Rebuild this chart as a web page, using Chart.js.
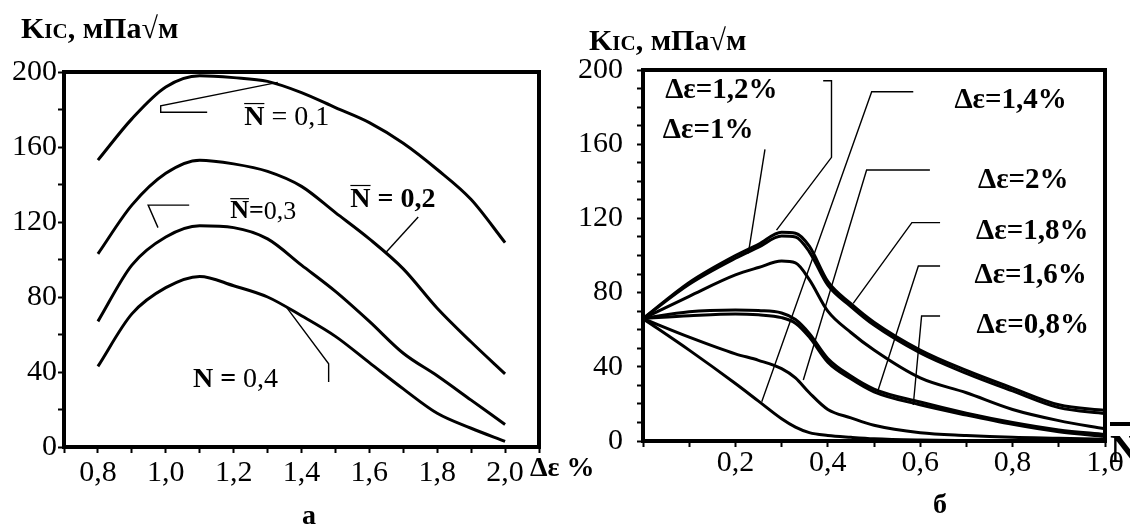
<!DOCTYPE html>
<html lang="ru">
<head>
<meta charset="UTF-8">
<title>K1C от Δε и N</title>
<script src="https://cdn.jsdelivr.net/npm/chart.js"></script>
<style>
  body { margin: 0; background: #fff; color: #000; font-family: 'Liberation Serif', 'Times New Roman', serif; }
  #wrap { position: relative; width: 1130px; height: 524px; overflow: hidden; }
  canvas { position: absolute; top: 0; }
  .lbl { position: absolute; font-weight: bold; white-space: nowrap; line-height: 1; }
  .lbl .sub { font-size: 21px; }
</style>
</head>
<body>
<div id="wrap">
  <canvas id="chartA" width="565" height="524" style="left:0"></canvas>
  <canvas id="chartB" width="565" height="524" style="left:565px"></canvas>
  <div class="lbl" style="left:21px; top:13px; font-size:30px">K<span class="sub">IC</span>, мПа√м</div>
  <div class="lbl" style="left:589px; top:25px; font-size:30px">K<span class="sub">IC</span>, мПа√м</div>
  <div class="lbl" style="left:530px; top:453px; font-size:28px">Δε %</div>
  <div class="lbl" style="left:302px; top:501px; font-size:28px">а</div>
  <div class="lbl" style="left:933px; top:490px; font-size:28px">б</div>
  <div class="lbl" style="left:1110px; top:429px; font-size:40px; text-decoration:overline">N</div>
</div>
<script>
// ---- chart а: K1C vs strain range, one curve per N ----
const strainX = [0.8, 0.9, 1.0, 1.1, 1.2, 1.3, 1.4, 1.5, 1.6, 1.7, 1.8, 1.9, 2.0];
const kN01 = [153, 175, 192, 198, 197, 195, 189, 181, 173, 162, 148, 132, 109];
const kN02 = [103, 129, 146, 153, 151, 147, 139, 125, 111, 95, 74, 56, 39];
const kN03 = [67, 97, 112, 118, 117, 111, 97, 83, 67, 50, 38, 25, 12];
const kN04 = [43, 71, 85, 91, 86, 80, 70, 59, 45, 31, 18, 10, 3];

// ---- chart б: K1C vs N, one curve per strain range ----
const nX = [0, 0.1, 0.2, 0.25, 0.3, 0.33, 0.36, 0.4, 0.45, 0.5, 0.6, 0.7, 0.8, 0.9, 1.0];
const kE12 = [66, 85.5, 100, 106, 112.5, 112, 105, 86, 74, 64, 49, 38, 28.5, 19.5, 16.5];
const kE10 = [66, 84.5, 98.5, 104.5, 110.5, 110, 102, 84, 72.5, 62.5, 47.5, 36.5, 27, 18, 14.8];
const kE18 = [66, 78, 89.5, 93.5, 97, 96, 87, 70, 58.5, 49, 34, 26, 17, 11, 6.6];
const kE16 = [66, 69.7, 70.6, 70.3, 69, 65.5, 58, 44.5, 35, 28, 21, 15, 10, 6, 3.5];
const kE08 = [66, 67.5, 68.5, 68, 66.5, 63.5, 56, 42.5, 33.5, 26.5, 19.5, 14, 9, 5, 2.5];
const kE20 = [66, 56, 47, 43.5, 39, 34, 26, 17, 12.5, 8.5, 4.5, 3, 2, 1.5, 1];
const kE14 = [66, 49, 31, 21.5, 12, 7.5, 4.5, 3, 2, 1.2, 0.5, 0.2, 0, 0, 0];

// annotation texts and leader lines, in data units
const labelsA = [
  { x: 1.231, y: 175.7, size: 28, parts: [['N', true, true], [' = 0,1', false]] },
  { x: 1.544, y: 132, size: 28, parts: [['N', true, true], [' = 0,2', true]] },
  { x: 1.19, y: 125.5, size: 26, parts: [['N', true, true], ['=', true], ['0,3', false]] },
  { x: 1.08, y: 36, size: 28, parts: [['N', true, false], [' = ', true], ['0,4', false]] }
];
const leadersA = [
  [[1.33, 194.5], [0.985, 181.9], [0.985, 178.5], [1.122, 178.5]],
  [[1.744, 122.7], [1.65, 104]],
  [[1.069, 129], [0.948, 129], [0.977, 117]],
  [[1.355, 74.7], [1.48, 44.4], [1.48, 34.7]]
];
const labelsB = [
  { x: 0.048, y: 189.2, size: 29, parts: [['Δε=1,2%', true]] },
  { x: 0.043, y: 167.3, size: 29, parts: [['Δε=1%', true]] },
  { x: 0.674, y: 183.3, size: 29, parts: [['Δε=1,4%', true]] },
  { x: 0.725, y: 140.2, size: 29, parts: [['Δε=2%', true]] },
  { x: 0.721, y: 112.7, size: 29, parts: [['Δε=1,8%', true]] },
  { x: 0.7175, y: 89.2, size: 29, parts: [['Δε=1,6%', true]] },
  { x: 0.722, y: 62.5, size: 29, parts: [['Δε=0,8%', true]] }
];
const leadersB = [
  [[0.264, 157.2], [0.228, 101.2]],
  [[0.390, 194.2], [0.408, 194.2], [0.408, 152.9], [0.289, 113.7]],
  [[0.585, 188.3], [0.495, 188.3], [0.257, 21.2]],
  [[0.621, 146.1], [0.484, 146.1], [0.347, 32.9]],
  [[0.643, 117.7], [0.582, 117.7], [0.455, 74.2]],
  [[0.643, 94.3], [0.596, 94.3], [0.509, 27.5]],
  [[0.643, 67.4], [0.603, 67.4], [0.585, 19.4]]
];

Chart.defaults.color = '#000';
Chart.defaults.font.family = "'Liberation Serif', 'Times New Roman', serif";

// frame, leader lines and in-plot texts
const annotate = {
  id: 'annotate',
  afterDraw(chart, args, opts) {
    const { ctx, chartArea: a, scales: { x, y } } = chart;
    ctx.save();
    ctx.strokeStyle = '#000';
    ctx.fillStyle = '#000';
    ctx.lineWidth = 1.4;
    opts.leaders.forEach(pts => {
      ctx.beginPath();
      pts.forEach(([vx, vy], i) => {
        const px = x.getPixelForValue(vx), py = y.getPixelForValue(vy);
        if (i) ctx.lineTo(px, py); else ctx.moveTo(px, py);
      });
      ctx.stroke();
    });
    ctx.textBaseline = 'middle';
    opts.labels.forEach(l => {
      let px = x.getPixelForValue(l.x);
      const py = y.getPixelForValue(l.y);
      l.parts.forEach(([text, bold, bar]) => {
        ctx.font = (bold ? 'bold ' : '') + l.size + "px 'Liberation Serif'";
        ctx.fillText(text, px, py);
        const w = ctx.measureText(text).width;
        if (bar) {
          ctx.lineWidth = 1.2;
          ctx.beginPath();
          ctx.moveTo(px, py - l.size * 0.5);
          ctx.lineTo(px + w, py - l.size * 0.5);
          ctx.stroke();
        }
        px += w;
      });
    });
    ctx.lineWidth = 4;
    ctx.strokeRect(a.left, a.top, a.right - a.left, a.bottom - a.top);
    ctx.restore();
  }
};

function series(xs, ys) {
  return {
    data: xs.map((v, i) => ({ x: v, y: ys[i] })),
    borderColor: '#000',
    borderWidth: 3,
    pointRadius: 0,
    fill: false,
    cubicInterpolationMode: 'monotone'
  };
}

function comma(k) { return (k / 10).toFixed(1).replace('.', ','); }

function makeChart(id, cfg) {
  return new Chart(document.getElementById(id), {
    type: 'line',
    data: { datasets: cfg.datasets },
    plugins: [annotate],
    options: {
      responsive: false,
      animation: false,
      devicePixelRatio: 1,
      layout: { padding: { top: cfg.top, right: cfg.right, bottom: 0, left: 0 } },
      plugins: {
        legend: { display: false },
        tooltip: { enabled: false },
        annotate: { labels: cfg.labels, leaders: cfg.leaders }
      },
      scales: {
        x: {
          type: 'linear',
          min: cfg.xMin, max: cfg.xMax,
          border: { display: false },
          grid: { drawOnChartArea: false, tickLength: 6, tickWidth: 2, tickColor: '#000' },
          ticks: {
            stepSize: 0.1, autoSkip: false, maxRotation: 0,
            padding: cfg.xPad,
            font: { size: 30 },
            callback: v => {
              const k = Math.round(v * 10);
              return (k % 2 === 0 && k >= cfg.firstLabel && k <= cfg.lastLabel) ? comma(k) : '';
            }
          },
          afterFit: s => { s.height = cfg.xHeight; }
        },
        y: {
          min: 0, max: 200,
          border: { display: false },
          grid: { drawOnChartArea: false, tickLength: 6, tickWidth: 2, tickColor: '#000' },
          ticks: {
            stepSize: cfg.yStep, autoSkip: false,
            padding: cfg.yPad,
            font: { size: 30 },
            callback: v => (v % 40 === 0 ? String(v) : '')
          },
          afterFit: s => { s.width = cfg.yWidth; }
        }
      }
    }
  });
}

makeChart('chartA', {
  datasets: [series(strainX, kN01), series(strainX, kN02), series(strainX, kN03), series(strainX, kN04)],
  labels: labelsA, leaders: leadersA,
  xMin: 0.7, xMax: 2.1, firstLabel: 8, lastLabel: 20,
  top: 72, right: 26, xHeight: 77, yWidth: 64, xPad: 2, yPad: 1, yStep: 20
});

makeChart('chartB', {
  datasets: [series(nX, kE12), series(nX, kE10), series(nX, kE18), series(nX, kE16),
             series(nX, kE08), series(nX, kE20), series(nX, kE14)],
  labels: labelsB, leaders: leadersB,
  xMin: 0, xMax: 1, firstLabel: 2, lastLabel: 10,
  top: 70, right: 25, xHeight: 83, yWidth: 78, xPad: -2, yPad: 14, yStep: 10
});
</script>
</body>
</html>
